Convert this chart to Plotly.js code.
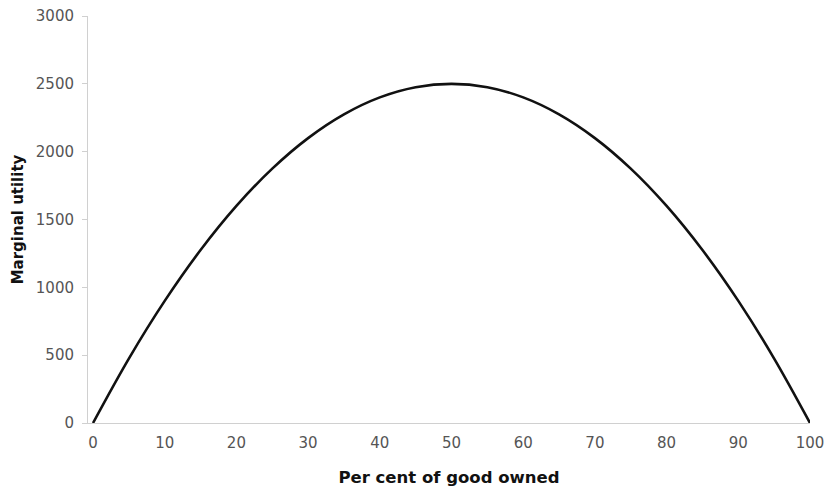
<!DOCTYPE html>
<html><head><meta charset="utf-8">
<script src="https://cdn.plot.ly/plotly-3.0.1.min.js"></script>
<style>html,body{margin:0;padding:0;background:#fff}</style>
</head><body>
<div id="chart" style="width:831px;height:494px"></div>
<script>
var percentOwned = [0,5,10,15,20,25,30,35,40,45,50,55,60,65,70,75,80,85,90,95,100];
var marginalUtility = [0,475,900,1275,1600,1875,2100,2275,2400,2475,2500,2475,2400,2275,2100,1875,1600,1275,900,475,0];
var xTicks = [0,10,20,30,40,50,60,70,80,90,100];
var yTicks = [0,500,1000,1500,2000,2500,3000];

Plotly.newPlot('chart', [{
  x: percentOwned, y: marginalUtility, type: 'scatter', mode: 'lines',
  line: {color: '#111', width: 2.6, shape: 'spline'}, hoverinfo: 'none'
}], {
  width: 831, height: 494,
  margin: {l: 88, r: 21, t: 16, b: 71},
  paper_bgcolor: '#fff', plot_bgcolor: '#fff',
  showlegend: false,
  font: {family: 'DejaVu Sans, Verdana, sans-serif', size: 15, color: '#555'},
  xaxis: {
    range: [-0.7, 100], tickvals: xTicks, ticktext: xTicks.map(String),
    showgrid: false, zeroline: false, showline: true, linecolor: '#d0d0d0', linewidth: 1,
    ticks: 'outside', ticklen: 6, tickcolor: 'rgba(0,0,0,0)',
    title: {text: 'Per cent of good owned', font: {family: 'DejaVu Sans, Verdana, sans-serif', size: 16.5, color: '#111', weight: 'bold'}, standoff: 20}
  },
  yaxis: {
    range: [0, 3000], tickvals: yTicks, ticktext: yTicks.map(String),
    showgrid: false, zeroline: false, showline: true, linecolor: '#d0d0d0', linewidth: 1,
    ticks: 'outside', ticklen: 5, tickcolor: '#d0d0d0', ticklabelstandoff: 5,
    title: {text: 'Marginal utility', font: {family: 'DejaVu Sans, Verdana, sans-serif', size: 15, color: '#111', weight: 'bold'}, standoff: 8}
  }
}, {displayModeBar: false, staticPlot: true});
</script>
</body></html>
